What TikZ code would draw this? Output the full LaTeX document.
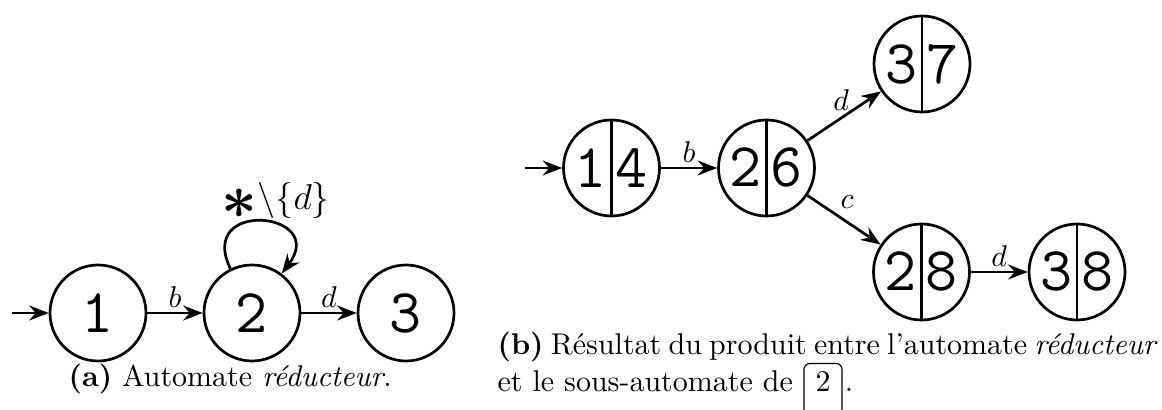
\documentclass[tikz,border=0pt]{standalone}
\usepackage{amsmath}
\usetikzlibrary{arrows.meta}
\tikzset{
  state/.style={circle, draw, line width=0.9pt, minimum size=32pt, inner sep=0pt, font=\ttfamily\huge},
  edge/.style={-{Stealth[length=6.5pt,width=5pt,inset=2.2pt]}, line width=0.9pt},
  lab/.style={font=\normalsize, inner sep=1.5pt},
  divider/.style={line width=0.9pt},
  captxt/.style={inner sep=0pt, font=\normalsize}
}
\begin{document}
\begin{tikzpicture}[x=0.33333pt,y=-0.33333pt]
\useasboundingbox (0,0) rectangle (1162,410);
% (a)
\coordinate (s1) at (12,313);
\node[state] (n1) at (98,313) {1};
\node[state] (n2) at (252,313) {2};
\node[state] (n3) at (406,313) {3};
\draw[edge] (s1) -- (n1);
\draw[edge] (n1) -- node[lab, above] {$b$} (n2);
\draw[edge] (n2) -- node[lab, above] {$d$} (n3);
\draw[edge] (n2.116) .. controls +(116:26pt) and +(53:26pt) .. (n2.53)
  node[midway, above, inner sep=0pt, xshift=5pt, yshift=0.5pt, font=\large]
  {$\raisebox{-3.2pt}{\fontsize{20}{20}\selectfont$\boldsymbol{\ast}$}\backslash\{d\}$};
\node[captxt, anchor=base west] (capa) at (68,387) {\textbf{(a)} Automate \textit{réducteur}.};
% (b)
\coordinate (s2) at (525,168);
\node[state] (p14) at (611.5,168) {1\hspace{3pt}4};
\node[state] (p26) at (766.5,168) {2\hspace{3pt}6};
\node[state] (p37) at (922,64) {3\hspace{3pt}7};
\node[state] (p28) at (921.5,272) {2\hspace{3pt}8};
\node[state] (p38) at (1077,272) {3\hspace{3pt}8};
\foreach \n in {p14,p26,p37,p28,p38} \draw[divider] (\n.north) -- (\n.south);
\draw[edge] (s2) -- (p14);
\draw[edge] (p14) -- node[lab, above] {$b$} (p26);
\draw[edge] (p26) -- node[lab, above, xshift=-1pt] {$d$} (p37);
\draw[edge] (p26) -- node[lab, above, yshift=1.8pt, xshift=1pt] {$c$} (p28);
\draw[edge] (p28) -- node[lab, above] {$d$} (p38);
\node[captxt, anchor=base west] (capb1) at (497,355) {\hbox to 220pt{\textbf{(b)} Résultat du produit entre l'automate \textit{réducteur}}};
\node[captxt, anchor=base west] (capb2) at (497,392) {et le sous-automate de};
\node[draw, rounded corners=2pt, line width=0.4pt, anchor=base west, inner sep=3pt, text height=6.5pt, text depth=12pt, minimum width=12.7pt, font=\normalsize] (box2) at ([xshift=3.3pt]capb2.base east) {2};
\node[captxt, anchor=base west] (dot) at ([xshift=0.5pt]box2.base east) {.};
\end{tikzpicture}
\end{document}
